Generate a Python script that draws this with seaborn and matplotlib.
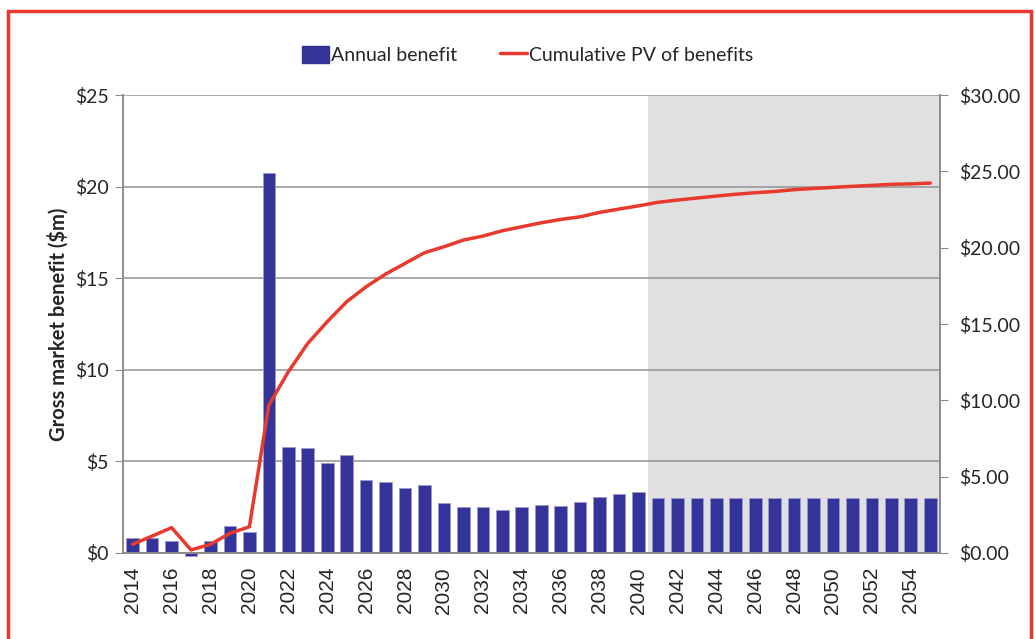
import seaborn as sns
import pandas as pd
import matplotlib.pyplot as plt
import numpy as np
from matplotlib.patches import Patch, Rectangle
from matplotlib.lines import Line2D
from matplotlib.ticker import FuncFormatter

# data
years = list(range(2014, 2056))
annual_benefit = [0.80, 0.80, 0.67, -0.15, 0.67, 1.49, 1.15, 20.74, 5.79, 5.73,
                  4.91, 5.33, 3.98, 3.88, 3.53, 3.69, 2.71, 2.49, 2.49, 2.37,
                  2.49, 2.60, 2.55, 2.78, 3.06, 3.24, 3.35, 3.00, 3.00, 3.00,
                  3.00, 3.00, 3.00, 3.00, 3.00, 3.00, 3.00, 3.00, 3.00, 3.00,
                  3.00, 3.00]
cumulative_pv = [0.57, 1.11, 1.66, 0.20, 0.57, 1.29, 1.72, 9.69, 11.87, 13.73,
                 15.15, 16.46, 17.44, 18.27, 18.97, 19.67, 20.06, 20.50, 20.76, 21.11,
                 21.37, 21.63, 21.85, 22.02, 22.31, 22.53, 22.74, 22.97, 23.12, 23.25,
                 23.38, 23.50, 23.60, 23.68, 23.80, 23.88, 23.95, 24.02, 24.08, 24.15,
                 24.18, 24.23]
forecast_start = 2040.5

df = pd.DataFrame({'year': years, 'annual': annual_benefit, 'cum': cumulative_pv})

sns.set_style('white')
plt.rcParams['font.family'] = ['Lato', 'DejaVu Sans']

bar_col = '#333399'
line_col = '#E8392E'
grey = '#8c8c8c'

fig = plt.figure(figsize=(10.35, 6.39), dpi=100)
ax = fig.add_axes([0.1188, 0.1346, 0.7894, 0.7167])

ax.axvspan(forecast_start, 2055.5, color='#e0e0e0', zorder=0, lw=0)
sns.barplot(data=df, x='year', y='annual', native_scale=True, width=0.65,
            color=bar_col, edgecolor='#9a9ad0', linewidth=0.6, saturation=1,
            ax=ax, zorder=2)
for bar in ax.patches:
    bar.set_clip_on(False)

ax.set_xlim(2013.5, 2055.5)
ax.set_ylim(0, 25)
ax.set_yticks(range(0, 26, 5))
ax.yaxis.set_major_formatter(FuncFormatter(lambda v, p: f'${v:.0f}'))
ax.grid(axis='y', color='#999999', lw=1.2, zorder=1)
ax.set_axisbelow(True)

# category boundaries as tick marks, even years as labels
even_years = [y for y in years if y % 2 == 0]
ax.set_xticks(even_years)
ax.set_xticklabels([str(y) for y in even_years], rotation=90,
                   fontfamily='Liberation Sans', fontsize=15)
ax.set_xticks(np.arange(2013.5, 2056, 1), minor=True)
ax.tick_params(axis='x', which='major', length=0, pad=10)
ax.tick_params(axis='x', which='minor', length=6, color=grey, width=1)
ax.tick_params(axis='y', length=6, color=grey, labelsize=14, pad=4)
ax.set_xlabel('')
ax.set_ylabel('Gross market benefit ($m)', fontsize=14.5, fontweight='bold', labelpad=5)

for s in ['left', 'bottom', 'right']:
    ax.spines[s].set_color(grey)
    ax.spines[s].set_linewidth(1.2)
ax.spines['top'].set_visible(False)

ax2 = ax.twinx()
sns.lineplot(data=df, x='year', y='cum', color=line_col, lw=2.5, ax=ax2, zorder=3)
ax2.set_ylim(0, 30)
ax2.set_yticks(range(0, 31, 5))
ax2.yaxis.set_major_formatter(FuncFormatter(lambda v, p: f'${v:.2f}'))
ax2.tick_params(axis='y', length=6, color=grey, labelsize=14, pad=8)
ax2.set_ylabel('')
for s in ['left', 'bottom', 'right']:
    ax2.spines[s].set_color(grey)
    ax2.spines[s].set_linewidth(1.2)
ax2.spines['top'].set_visible(False)

handles = [Patch(facecolor=bar_col, edgecolor=bar_col),
           Line2D([0], [0], color=line_col, lw=2.5)]
fig.legend(handles, ['Annual benefit', 'Cumulative PV of benefits'],
           loc='center', bbox_to_anchor=(0.51, 0.914), ncol=2, frameon=False,
           fontsize=14, handlelength=1.4, handleheight=1.0, handletextpad=0.1,
           columnspacing=2.2)

# red outline around the chart
fig.patches.append(Rectangle((8 / 1035, -0.05), 1023 / 1035, 1.05 - 11 / 639,
                             transform=fig.transFigure, fill=False,
                             edgecolor=line_col, lw=2.5))

fig.savefig('out.png', dpi=100)
